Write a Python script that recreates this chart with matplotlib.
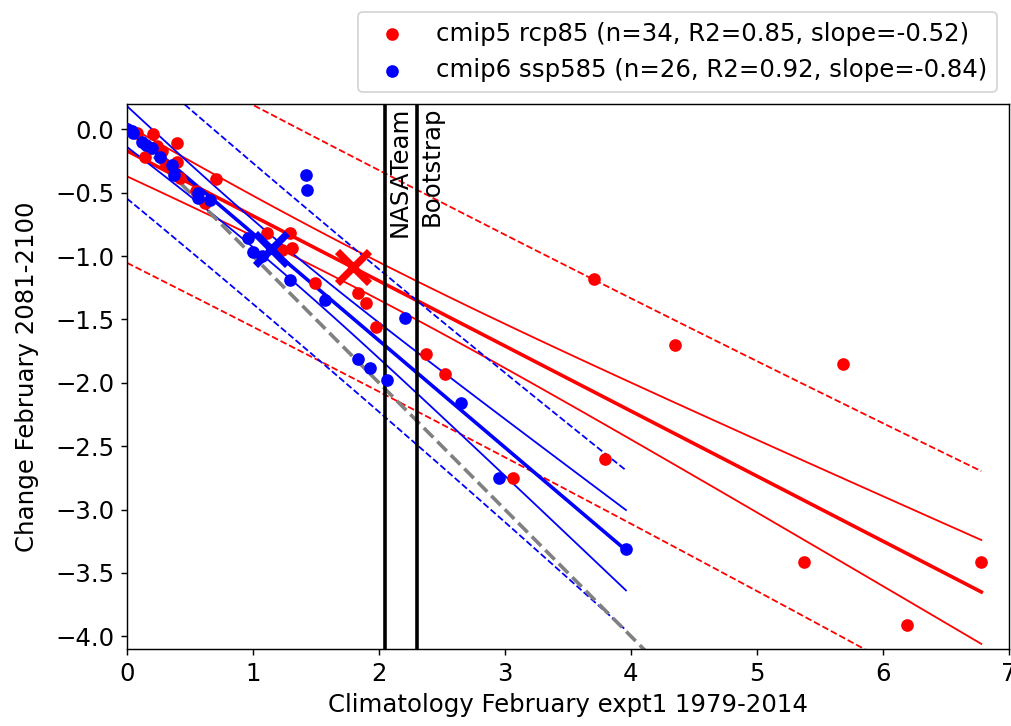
import matplotlib
matplotlib.use("Agg")
import matplotlib.pyplot as plt
import numpy as np

# cmip5 rcp85 points (climatology, change)
cmip5_x = [0.00, 0.03, 0.08, 0.21, 0.18, 0.24, 0.28, 0.31, 0.40, 0.40, 0.34, 0.42,
           0.71, 0.55, 0.62, 0.14,
           1.11, 1.29, 1.31, 1.23, 1.49, 1.83, 1.90, 1.98, 2.37, 2.52,
           3.71, 4.35, 5.68, 3.79, 3.06, 5.37, 6.19, 6.78]
cmip5_y = [0.00, -0.01, -0.03, -0.04, -0.15, -0.13, -0.17, -0.28, -0.11, -0.26, -0.30, -0.38,
           -0.39, -0.49, -0.58, -0.22,
           -0.82, -0.82, -0.94, -0.95, -1.21, -1.29, -1.37, -1.56, -1.77, -1.93,
           -1.18, -1.70, -1.85, -2.60, -2.75, -3.41, -3.91, -3.41]

# cmip6 ssp585 points
cmip6_x = [0.00, 0.04, 0.05, 0.12, 0.20, 0.26, 0.36, 0.15, 0.37, 0.56, 0.56, 0.66,
           1.42, 1.43, 0.96, 1.00, 1.07, 1.29, 1.57, 2.21, 1.83, 1.93, 2.06, 2.65, 2.95, 3.96]
cmip6_y = [0.00, -0.01, -0.03, -0.10, -0.15, -0.22, -0.28, -0.12, -0.36, -0.50, -0.54, -0.56,
           -0.36, -0.48, -0.86, -0.97, -1.00, -1.19, -1.35, -1.49, -1.81, -1.88, -1.98, -2.16, -2.75, -3.31]

labels = ["cmip5 rcp85 (n=34, R2=0.85, slope=-0.52)",
          "cmip6 ssp585 (n=26, R2=0.92, slope=-0.84)"]
colors = ["red", "blue"]
t_crit = [2.037, 2.064]  # 95% two-sided t, df = n-2

obs_x = [2.05, 2.30]
obs_names = ["NASATeam", "Bootstrap"]

plt.rcParams["font.size"] = 13.5

DPI = 130
fig = plt.figure(figsize=(1011 / DPI, 726 / DPI), dpi=DPI)
ax = fig.add_axes([127 / 1011, 1 - 649 / 726, 882 / 1011, 545 / 726])

for xs, ys, col, lab, t in zip([cmip5_x, cmip6_x], [cmip5_y, cmip6_y], colors, labels, t_crit):
    x = np.array(xs)
    y = np.array(ys)
    n = len(x)
    ax.scatter(x, y, color=col, label=lab, zorder=3)
    # least squares fit with confidence / prediction bands
    slope, icpt = np.polyfit(x, y, 1)
    xm = x.mean()
    resid = y - (slope * x + icpt)
    s = np.sqrt((resid ** 2).sum() / (n - 2))
    sxx = ((x - xm) ** 2).sum()
    xx = np.linspace(x.min(), x.max(), 100)
    yy = slope * xx + icpt
    ci = t * s * np.sqrt(1 / n + (xx - xm) ** 2 / sxx)
    pi = t * s * np.sqrt(1 + 1 / n + (xx - xm) ** 2 / sxx)
    ax.plot(xx, yy, color=col, lw=2)
    ax.plot(xx, yy + ci, color=col, lw=1)
    ax.plot(xx, yy - ci, color=col, lw=1)
    ax.plot(xx, yy + pi, color=col, lw=1, ls="--")
    ax.plot(xx, yy - pi, color=col, lw=1, ls="--")
    ax.plot(xm, y.mean(), marker="x", color=col, markersize=18, mew=4, zorder=4)

ax.plot([0, 7], [0, -7], color="gray", ls="--", lw=2)

for xv, name in zip(obs_x, obs_names):
    ax.axvline(xv, color="black", lw=2)
    ax.text(xv + 0.02, 0.18, name, rotation=90, ha="left", va="top")

ax.set_xlim(0, 7)
ax.set_ylim(-4.1, 0.2)
ax.set_yticks(np.arange(-4.0, 0.01, 0.5))
ax.set_xlabel("Climatology February expt1 1979-2014")
ax.set_ylabel("Change February 2081-2100", labelpad=9)
ax.legend(loc="lower right", bbox_to_anchor=(1, 1))

fig.savefig("out.png", dpi=DPI)
